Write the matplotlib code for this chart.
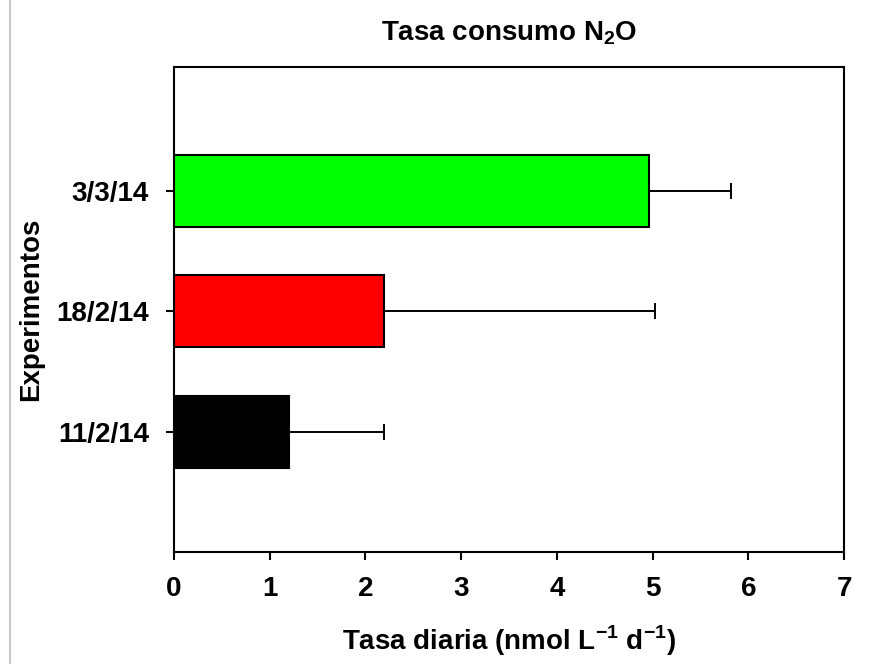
import matplotlib.pyplot as plt
from matplotlib.lines import Line2D
import numpy as np

# Daily N2O consumption rate per experiment
experimentos = ['11/2/14', '18/2/14', '3/3/14']
tasa = [1.20, 2.19, 4.96]
error = [0.99, 2.83, 0.86]
colores = ['#000000', '#ff0000', '#00ff00']

plt.rcParams['font.family'] = ['Liberation Sans', 'DejaVu Sans']
plt.rcParams['font.weight'] = 'bold'
plt.rcParams['mathtext.fontset'] = 'custom'
plt.rcParams['mathtext.bf'] = 'Liberation Sans:bold'
plt.rcParams['mathtext.rm'] = 'Liberation Sans:bold'

fig = plt.figure(figsize=(8.88, 6.64), dpi=100)
ax = fig.add_axes([0.196, 0.1687, 0.7545, 0.7303])

y = np.arange(len(experimentos))
ax.barh(y, tasa, height=0.6, color=colores, edgecolor='black', linewidth=1.5, zorder=2)
ax.errorbar(tasa, y, xerr=[np.zeros(len(tasa)), error], fmt='none',
            ecolor='black', elinewidth=1.4, capsize=5.5, capthick=1.4, zorder=3)

ax.set_xlim(0, 7)
ax.set_ylim(-1, 3.03)
ax.set_xticks(range(8))
ax.set_yticks(y)
ax.set_yticklabels(experimentos)
ax.tick_params(direction='out', length=6, width=1.5, labelsize=20)
ax.tick_params(axis='y', pad=12)
ax.tick_params(axis='x', pad=11)
for s in ax.spines.values():
    s.set_linewidth(1.5)

ax.set_title('Tasa consumo N$_\\mathbf{2}$O', fontsize=20, fontweight='bold', pad=19)
ax.set_xlabel('Tasa diaria (nmol L$^{\\mathbf{-1}}$ d$^{\\mathbf{-1}}$)', fontsize=20,
              fontweight='bold', labelpad=16)
ax.set_ylabel('Experimentos', fontsize=20, fontweight='bold', labelpad=9)

# thin grey border line at the left edge of the reference image
fig.add_artist(Line2D([0.011, 0.011], [0, 1], color='#c8c8c8', linewidth=1.5,
                      transform=fig.transFigure))

fig.savefig('out.png', dpi=100)
